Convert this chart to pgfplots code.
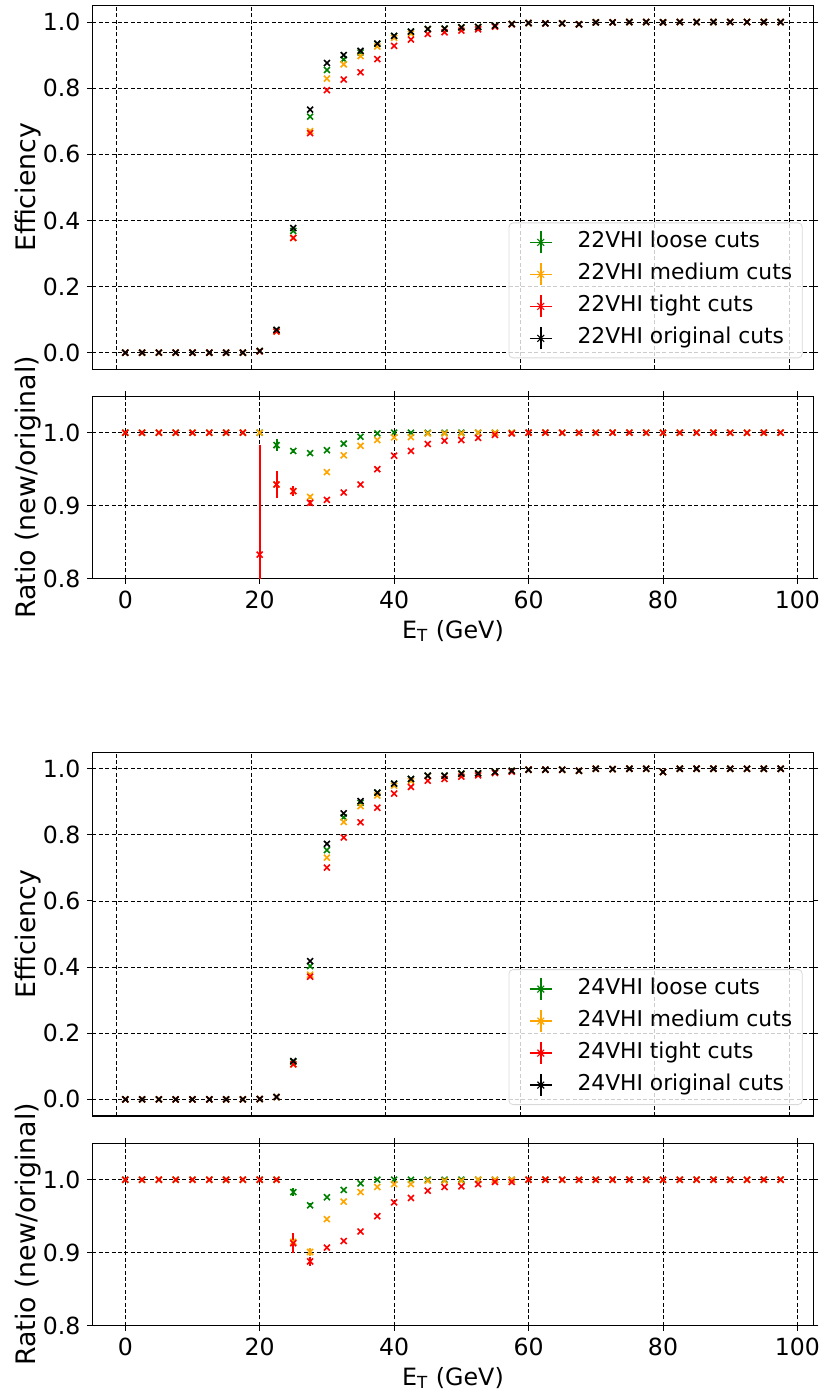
\documentclass[border=0pt]{standalone}
\usepackage{fontspec}
\setmainfont{DejaVu Sans}
\usepackage{pgfplots}
\pgfplotsset{compat=1.18}
\usepackage{pgfplotstable}
\definecolor{mgreen}{RGB}{0,128,0}
\definecolor{morange}{RGB}{255,165,0}
\definecolor{mred}{RGB}{255,0,0}
\newcommand{\myfont}{\fontsize{10.9}{13}\selectfont}
\newcommand{\tickfont}{\fontsize{11.8}{14}\selectfont}
\newcommand{\ylabfont}{\fontsize{13.4}{16}\selectfont}
\newcommand{\xlabfont}{\fontsize{11.9}{14}\selectfont}

\pgfplotstableread{
x k g o r
0 0 0 0 0
2.5 0 0 0 0
5 0 0 0 0
7.5 0 0 0 0
10 0 0 0 0
12.5 0 0 0 0
15 0 0 0 0
17.5 0 0 0 0
20 0.005 0.005 0.005 0.004
22.5 0.069 0.068 0.064 0.064
25 0.377 0.368 0.347 0.347
27.5 0.735 0.714 0.670 0.664
30 0.876 0.855 0.829 0.794
32.5 0.900 0.887 0.872 0.826
35 0.913 0.908 0.897 0.848
37.5 0.935 0.934 0.926 0.888
40 0.958 0.958 0.952 0.928
42.5 0.971 0.971 0.965 0.947
45 0.979 0.979 0.978 0.964
47.5 0.980 0.980 0.979 0.969
50 0.984 0.984 0.983 0.974
52.5 0.985 0.985 0.985 0.978
55 0.989 0.989 0.989 0.986
57.5 0.994 0.994 0.994 0.993
60 0.997 0.997 0.997 0.997
62.5 0.996 0.996 0.996 0.996
65 0.996 0.996 0.996 0.996
67.5 0.993 0.993 0.993 0.993
70 0.999 0.999 0.999 0.999
72.5 0.999 0.999 0.999 0.999
75 1.0 1.0 1.0 1.0
77.5 1.0 1.0 1.0 1.0
80 0.999 0.999 0.999 0.999
82.5 1.0 1.0 1.0 1.0
85 1.0 1.0 1.0 1.0
87.5 1.0 1.0 1.0 1.0
90 1.0 1.0 1.0 1.0
92.5 1.0 1.0 1.0 1.0
95 1.0 1.0 1.0 1.0
97.5 1.0 1.0 1.0 1.0
}\effA

\pgfplotstableread{
x g o r eg eo er
0 1 1 1 0 0 0
2.5 1 1 1 0 0 0
5 1 1 1 0 0 0
7.5 1 1 1 0 0 0
10 1 1 1 0 0 0
12.5 1 1 1 0 0 0
15 1 1 1 0 0 0
17.5 1 1 1 0 0 0
20 1 1 0.833 0.002 0.002 0.15
22.5 0.983 0.929 0.929 0.008 0.015 0.019
25 0.975 0.920 0.920 0.003 0.006 0.007
27.5 0.972 0.912 0.904 0.002 0.003 0.004
30 0.976 0.946 0.908 0.001 0.002 0.002
32.5 0.985 0.969 0.918 0 0 0.001
35 0.9945 0.982 0.929 0 0 0
37.5 0.999 0.990 0.950 0 0 0
40 1.0 0.9936 0.9685 0 0 0
42.5 1.0 0.994 0.975 0 0 0
45 1.0 0.999 0.9845 0 0 0
47.5 1.0 0.999 0.989 0 0 0
50 1.0 0.999 0.990 0 0 0
52.5 1.0 1.0 0.993 0 0 0
55 1.0 1.0 0.997 0 0 0
57.5 1.0 1.0 0.999 0 0 0
60 1 1 1 0 0 0
62.5 1 1 1 0 0 0
65 1 1 1 0 0 0
67.5 1 1 1 0 0 0
70 1 1 1 0 0 0
72.5 1 1 1 0 0 0
75 1 1 1 0 0 0
77.5 1 1 1 0 0 0
80 1 1 1 0 0 0
82.5 1 1 1 0 0 0
85 1 1 1 0 0 0
87.5 1 1 1 0 0 0
90 1 1 1 0 0 0
92.5 1 1 1 0 0 0
95 1 1 1 0 0 0
97.5 1 1 1 0 0 0
}\ratA

\pgfplotstableread{
x k g o r
0 0 0 0 0
2.5 0 0 0 0
5 0 0 0 0
7.5 0 0 0 0
10 0 0 0 0
12.5 0 0 0 0
15 0 0 0 0
17.5 0 0 0 0
20 0.001 0.001 0.001 0.001
22.5 0.007 0.007 0.007 0.007
25 0.116 0.114 0.106 0.106
27.5 0.418 0.403 0.377 0.371
30 0.773 0.754 0.731 0.701
32.5 0.865 0.853 0.839 0.792
35 0.902 0.897 0.887 0.838
37.5 0.928 0.928 0.919 0.882
40 0.955 0.955 0.949 0.925
42.5 0.969 0.969 0.963 0.945
45 0.979 0.979 0.978 0.964
47.5 0.979 0.979 0.978 0.969
50 0.985 0.985 0.984 0.976
52.5 0.986 0.986 0.986 0.980
55 0.990 0.990 0.990 0.987
57.5 0.994 0.994 0.994 0.991
60 0.997 0.997 0.997 0.997
62.5 0.997 0.997 0.997 0.997
65 0.997 0.997 0.997 0.997
67.5 0.994 0.994 0.994 0.994
70 1.0 1.0 1.0 1.0
72.5 0.999 0.999 0.999 0.999
75 1.0 1.0 1.0 1.0
77.5 1.0 1.0 1.0 1.0
80 0.990 0.990 0.990 0.990
82.5 1.0 1.0 1.0 1.0
85 1.0 1.0 1.0 1.0
87.5 1.0 1.0 1.0 1.0
90 1.0 1.0 1.0 1.0
92.5 1.0 1.0 1.0 1.0
95 1.0 1.0 1.0 1.0
97.5 1.0 1.0 1.0 1.0
}\effB

\pgfplotstableread{
x g o r eg eo er
0 1 1 1 0 0 0
2.5 1 1 1 0 0 0
5 1 1 1 0 0 0
7.5 1 1 1 0 0 0
10 1 1 1 0 0 0
12.5 1 1 1 0 0 0
15 1 1 1 0 0 0
17.5 1 1 1 0 0 0
20 1 1 1 0 0 0
22.5 1 1 1 0 0 0
25 0.983 0.915 0.913 0.005 0.012 0.014
27.5 0.965 0.901 0.888 0.003 0.005 0.006
30 0.976 0.946 0.907 0.001 0.002 0.002
32.5 0.986 0.970 0.916 0 0 0.001
35 0.995 0.983 0.929 0 0 0
37.5 1.0 0.990 0.950 0 0 0
40 1.0 0.994 0.969 0 0 0
42.5 1.0 0.994 0.975 0 0 0
45 1.0 0.9986 0.985 0 0 0
47.5 1.0 0.9986 0.990 0 0 0
50 1.0 0.9986 0.991 0 0 0
52.5 1.0 1.0 0.994 0 0 0
55 1.0 1.0 0.997 0 0 0
57.5 1.0 1.0 0.997 0 0 0
60 1 1 1 0 0 0
62.5 1 1 1 0 0 0
65 1 1 1 0 0 0
67.5 1 1 1 0 0 0
70 1 1 1 0 0 0
72.5 1 1 1 0 0 0
75 1 1 1 0 0 0
77.5 1 1 1 0 0 0
80 1 1 1 0 0 0
82.5 1 1 1 0 0 0
85 1 1 1 0 0 0
87.5 1 1 1 0 0 0
90 1 1 1 0 0 0
92.5 1 1 1 0 0 0
95 1 1 1 0 0 0
97.5 1 1 1 0 0 0
}\ratB

\pgfplotsset{
  base/.style={
    scale only axis, width=360.45pt,
    xmin=-4.875, xmax=102.375,
    grid=major,
    major grid style={black, line width=0.4pt, dash pattern=on 2pt off 1.2pt},
    axis line style={line width=0.6pt},
    tick align=outside, major tick length=2.5pt,
    tick style={black, line width=0.5pt},
    ticklabel style={font=\tickfont},
    ylabel style={font=\ylabfont, at={(axis description cs:-0.0895,0.5)}, anchor=center},
    clip=true,
  },
  eff/.style={base, height=181.85pt,
    ymin=-0.05, ymax=1.05,
    ytick={0,0.2,0.4,0.6,0.8,1.0},
    yticklabels={0.0,0.2,0.4,0.6,0.8,1.0},
    xtick={-1.25,18.75,38.75,58.75,78.75,98.75},
    xticklabel=\empty,
    x tick style={draw=none},
    ylabel={Efficiency},
    legend cell align=left,
    legend style={at={(0.985,0.03)}, anchor=south east,
      draw=black!15, rounded corners=2pt, fill=white, fill opacity=0.8, text opacity=1,
      font=\myfont, row sep=2.5pt, inner xsep=2pt, inner ysep=3pt,
      nodes={inner xsep=3pt, inner ysep=1.5pt, text height=8pt, text depth=2.5pt}},
  },
  rat/.style={base, height=91.25pt,
    ymin=0.8, ymax=1.05,
    ytick={0.8,0.9,1.0},
    yticklabels={0.8,0.9,1.0},
    xtick={0,20,40,60,80,100},
    xticklabels={0,20,40,60,80,100},
    ylabel={Ratio (new/original)},
    xlabel={E\textsubscript{T} (GeV)},
    xlabel style={font=\xlabfont, at={(axis description cs:0.5,0)}, anchor=base, yshift=-29.7pt},
  },
  pts/.style={only marks, mark=x, mark size=2.1pt, line width=0.8pt, color=#1,
    legend image code/.code={
      \draw[#1, line width=0.8pt] (8pt,0pt) -- (19pt,0pt);
      \draw[#1, line width=0.8pt] (13.5pt,-5.5pt) -- (13.5pt,5.5pt);
      \draw[#1, line width=0.6pt] (11.8pt,-1.7pt) -- (15.2pt,1.7pt) (11.8pt,1.7pt) -- (15.2pt,-1.7pt);
      \path (0pt,0pt) (28.5pt,0pt);
    }},
  ept/.style={only marks, mark=x, mark size=2.1pt, line width=0.8pt, color=#1,
    error bars/y dir=both, error bars/y explicit,
    error bars/error bar style={line width=1pt, #1},
    error bars/error mark=none},
}

\begin{document}
\begin{tikzpicture}
\useasboundingbox (-46.25pt,2.75pt) rectangle (366.75pt,-693.25pt);

% Group 1 efficiency
\begin{axis}[eff, at={(0pt,0pt)}, anchor=north west]
\addplot[pts=mgreen] table[x=x,y=g] {\effA};
\addlegendentry{22VHI loose cuts}
\addplot[pts=morange] table[x=x,y=o] {\effA};
\addlegendentry{22VHI medium cuts}
\addplot[pts=mred] table[x=x,y=r] {\effA};
\addlegendentry{22VHI tight cuts}
\addplot[pts=black] table[x=x,y=k] {\effA};
\addlegendentry{22VHI original cuts}
\end{axis}

% Group 1 ratio
\begin{axis}[rat, at={(0pt,-195.35pt)}, anchor=north west]
\addplot[ept=mgreen] table[x=x,y=g,y error=eg] {\ratA};
\addplot[ept=morange] table[x=x,y=o,y error=eo] {\ratA};
\addplot[ept=mred] table[x=x,y=r,y error=er] {\ratA};
\end{axis}

% Group 2 efficiency
\begin{axis}[eff, at={(0pt,-373.35pt)}, anchor=north west]
\addplot[pts=mgreen] table[x=x,y=g] {\effB};
\addlegendentry{24VHI loose cuts}
\addplot[pts=morange] table[x=x,y=o] {\effB};
\addlegendentry{24VHI medium cuts}
\addplot[pts=mred] table[x=x,y=r] {\effB};
\addlegendentry{24VHI tight cuts}
\addplot[pts=black] table[x=x,y=k] {\effB};
\addlegendentry{24VHI original cuts}
\end{axis}

% Group 2 ratio
\begin{axis}[rat, at={(0pt,-568.85pt)}, anchor=north west]
\addplot[ept=mgreen] table[x=x,y=g,y error=eg] {\ratB};
\addplot[ept=morange] table[x=x,y=o,y error=eo] {\ratB};
\addplot[ept=mred] table[x=x,y=r,y error=er] {\ratB};
\end{axis}
\end{tikzpicture}
\end{document}
